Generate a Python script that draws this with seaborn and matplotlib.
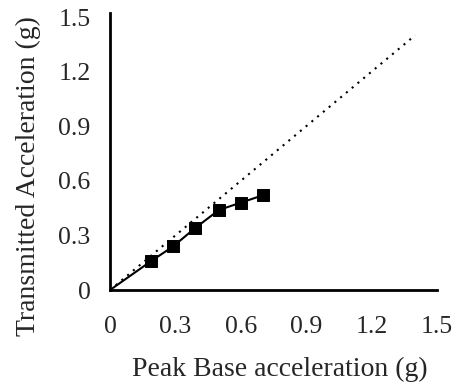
import matplotlib
matplotlib.use("Agg")
import matplotlib.pyplot as plt
import seaborn as sns
import pandas as pd

# measured points (g)
base_acc = [0.0, 0.19, 0.29, 0.39, 0.50, 0.60, 0.70]
trans_acc = [0.0, 0.16, 0.24, 0.34, 0.44, 0.48, 0.52]
# 1:1 reference line
ref_x = [0.0, 1.4]
ref_y = [0.0, 1.4]
ticks = [0, 0.3, 0.6, 0.9, 1.2, 1.5]
tick_labels = ["0", "0.3", "0.6", "0.9", "1.2", "1.5"]

sns.set_style("white")
plt.rcParams['font.family'] = ['Liberation Serif', 'DejaVu Serif']

df = pd.DataFrame({"x": base_acc, "y": trans_acc})
pts = df[df["x"] > 0]

fig = plt.figure(figsize=(4.61, 3.87), dpi=100)
# axes: x 0->1.5 spans px 110..437, y 0->1.5 spans px 290..17
ax = fig.add_axes([0.2386, 0.2506, 0.7093, 0.7054])

sns.lineplot(x=ref_x, y=ref_y, ax=ax, color="black", linestyle=(0, (1, 2.6)), linewidth=1.5)
sns.lineplot(data=df, x="x", y="y", ax=ax, color="black", linewidth=1.5)
sns.scatterplot(data=pts, x="x", y="y", ax=ax, marker="s", s=75, color="black",
                edgecolor="black", zorder=3)

ax.set_xlim(0, 1.5)
ax.set_ylim(0, 1.5)
ax.set_xticks(ticks)
ax.set_xticklabels(tick_labels)
ax.set_yticks(ticks)
ax.set_yticklabels(tick_labels)
ax.tick_params(axis="x", length=0, pad=19, labelsize=18.5)
ax.tick_params(axis="y", length=0, pad=14, labelsize=18.5)

for s in ["top", "right"]:
    ax.spines[s].set_visible(False)
for s in ["left", "bottom"]:
    ax.spines[s].set_color("black")
    ax.spines[s].set_linewidth(2)
ax.spines["left"].set_bounds(0, 1.52)

ax.set_xlabel("Peak Base acceleration (g)", fontsize=20)
ax.set_ylabel("Transmitted Acceleration (g)", fontsize=20)
ax.xaxis.set_label_coords(0.52, -0.245)
ax.yaxis.set_label_coords(-0.211, 0.418)

fig.savefig("out.png", dpi=100)
